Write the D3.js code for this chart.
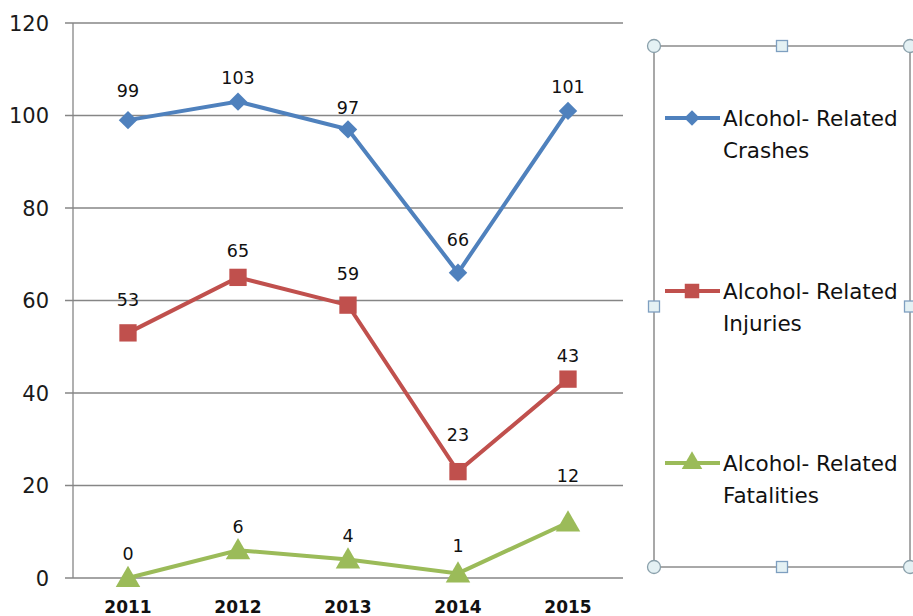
<!DOCTYPE html>
<meta charset="utf-8">
<style>
body { margin: 0; background: #fff; }
text { font-family: "DejaVu Sans", sans-serif; }
</style>
<body>
<script src="https://cdn.jsdelivr.net/npm/d3@7"></script>
<script>
var years = ["2011", "2012", "2013", "2014", "2015"],
    crashes = [99, 103, 97, 66, 101],
    injuries = [53, 65, 59, 23, 43],
    fatalities = [0, 6, 4, 1, 12],
    yTicks = [0, 20, 40, 60, 80, 100, 120];

// data labels were dragged by hand in the original: px above each point
var lift = {
  crashes: [30, 24, 22, 33, 24],
  injuries: [33, 27, 32, 37, 24],
  fatalities: [25, 24, 24, 28, 47]
};

var series = [
  {name: ["Alcohol- Related", "Crashes"], values: crashes, lift: lift.crashes, color: "#4f81bd", shape: "diamond", ly: 118},
  {name: ["Alcohol- Related", "Injuries"], values: injuries, lift: lift.injuries, color: "#c0504d", shape: "square", ly: 291},
  {name: ["Alcohol- Related", "Fatalities"], values: fatalities, lift: lift.fatalities, color: "#9bbb59", shape: "triangle", ly: 463}
];

var width = 913, height = 616;

var svg = d3.select("body").append("svg")
    .attr("width", width)
    .attr("height", height);

var x = d3.scaleBand().domain(years).range([73, 623]),
    y = d3.scaleLinear().domain([0, 120]).range([578, 23]);

// marker shapes, sized like the Excel ones
function marker(shape, big) {
  var k = big ? 1 : 0.7;
  if (shape === "diamond") return d3.symbol().type(d3.symbolSquare).size(170 * k)();
  if (shape === "square") return d3.symbol().type(d3.symbolSquare).size(300 * k)();
  return d3.symbol().type(d3.symbolTriangle).size(260 * k)();
}
function rot(shape) { return shape === "diamond" ? " rotate(45)" : ""; }

// gridlines
svg.append("g").selectAll("line")
    .data(yTicks)
    .enter().append("line")
    .attr("x1", 65).attr("x2", 623)
    .attr("y1", function(d) { return y(d); })
    .attr("y2", function(d) { return y(d); })
    .attr("stroke", "#868686").attr("stroke-width", 1.3);

svg.append("line")
    .attr("x1", 73).attr("x2", 73)
    .attr("y1", y(120)).attr("y2", y(0))
    .attr("stroke", "#868686").attr("stroke-width", 1.3);

// y labels
svg.append("g").selectAll("text")
    .data(yTicks)
    .enter().append("text")
    .attr("x", 49)
    .attr("y", function(d) { return y(d) + 7.5; })
    .attr("text-anchor", "end")
    .attr("font-size", 21)
    .attr("fill", "#1a1a1a")
    .text(function(d) { return d; });

// x labels
svg.append("g").selectAll("text")
    .data(years)
    .enter().append("text")
    .attr("x", function(d) { return x(d) + x.bandwidth() / 2; })
    .attr("y", 613)
    .attr("text-anchor", "middle")
    .attr("font-size", 17)
    .attr("font-weight", "bold")
    .attr("fill", "#111")
    .text(function(d) { return d; });

var line = d3.line()
    .x(function(d, i) { return x(years[i]) + x.bandwidth() / 2; })
    .y(function(d) { return y(d); });

var g = svg.selectAll("g.series")
    .data(series)
    .enter().append("g").attr("class", "series");

g.append("path")
    .attr("d", function(s) { return line(s.values); })
    .attr("fill", "none")
    .attr("stroke", function(s) { return s.color; })
    .attr("stroke-width", 4);

g.each(function(s) {
  var sel = d3.select(this);
  sel.selectAll("path.m")
      .data(s.values)
      .enter().append("path")
      .attr("class", "m")
      .attr("d", marker(s.shape, true))
      .attr("fill", s.color)
      .attr("transform", function(d, i) {
        return "translate(" + (x(years[i]) + x.bandwidth() / 2) + "," + (y(d) + (s.shape === "triangle" ? 2 : 0)) + ")" + rot(s.shape);
      });
  sel.selectAll("text.lbl")
      .data(s.values)
      .enter().append("text")
      .attr("class", "lbl")
      .attr("x", function(d, i) { return x(years[i]) + x.bandwidth() / 2; })
      .attr("y", function(d, i) { return y(d) - s.lift[i] + 6.5; })
      .attr("text-anchor", "middle")
      .attr("font-size", 17.5)
      .attr("fill", "#111")
      .text(function(d) { return d; });

  // legend entry
  var lg = svg.append("g");
  lg.append("line")
      .attr("x1", 665).attr("x2", 720)
      .attr("y1", s.ly).attr("y2", s.ly)
      .attr("stroke", s.color).attr("stroke-width", 4);
  lg.append("path")
      .attr("d", marker(s.shape, false))
      .attr("fill", s.color)
      .attr("transform", "translate(692," + s.ly + ")" + rot(s.shape));
  lg.selectAll("text")
      .data(s.name)
      .enter().append("text")
      .attr("x", 723)
      .attr("y", function(d, i) { return s.ly + 8 + i * 32; })
      .attr("font-size", 21.5)
      .attr("fill", "#111")
      .text(function(d) { return d; });
});

// legend frame with selection handles
var bx0 = 654, bx1 = 910, by0 = 46, by1 = 567;
svg.append("rect")
    .attr("x", bx0).attr("y", by0)
    .attr("width", bx1 - bx0).attr("height", by1 - by0)
    .attr("fill", "none")
    .attr("stroke", "#8c8c8c").attr("stroke-width", 1.5);

var corners = [[bx0, by0], [bx1, by0], [bx0, by1], [bx1, by1]],
    mids = [[(bx0 + bx1) / 2, by0], [(bx0 + bx1) / 2, by1], [bx0, (by0 + by1) / 2], [bx1, (by0 + by1) / 2]];

svg.selectAll("circle.h")
    .data(corners)
    .enter().append("circle")
    .attr("class", "h")
    .attr("cx", function(d) { return d[0]; })
    .attr("cy", function(d) { return d[1]; })
    .attr("r", 6.5)
    .attr("fill", "#e4f1f4")
    .attr("stroke", "#8aa0ab").attr("stroke-width", 1.3);

svg.selectAll("rect.h")
    .data(mids)
    .enter().append("rect")
    .attr("class", "h")
    .attr("x", function(d) { return d[0] - 5.5; })
    .attr("y", function(d) { return d[1] - 5.5; })
    .attr("width", 11).attr("height", 11)
    .attr("fill", "#e4f1f4")
    .attr("stroke", "#7e9fc0").attr("stroke-width", 1.3);
</script>
